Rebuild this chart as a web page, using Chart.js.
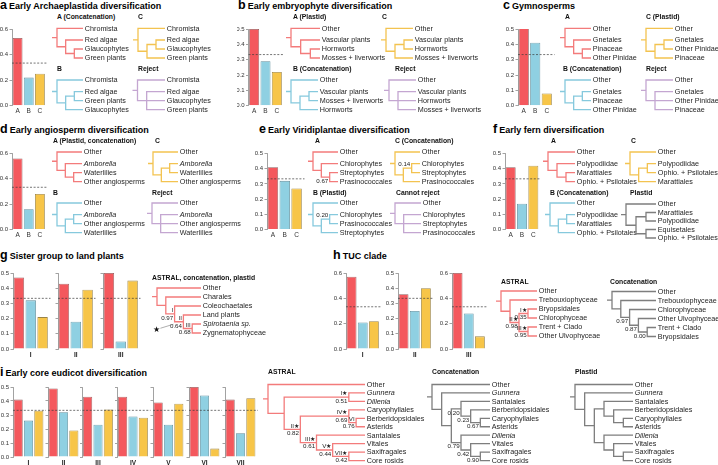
<!DOCTYPE html>
<html><head><meta charset="utf-8">
<script src="https://cdn.jsdelivr.net/npm/chart.js@4.4.1/dist/chart.umd.min.js"></script>
<style>
html,body{margin:0;padding:0;background:#fff;}
#fig{position:relative;width:718px;height:465px;overflow:hidden;background:#fff;font-family:"Liberation Sans",Arial,Helvetica,sans-serif;}
#fig canvas{position:absolute;}
.t{position:absolute;white-space:nowrap;color:#000;font-weight:bold;}
.title{font-size:9px;line-height:12px;}
.title .L{font-size:12.5px;margin-right:2px;}
.hd{font-size:6.8px;line-height:8px;color:#111;}
</style></head><body><div id="fig"></div>
<script>
// ================= DATA =================
const hypotheses = ['A', 'B', 'C'];
const archaeplastidaSupport = [0.53, 0.22, 0.25];
const embryophyteSupport   = [0.50, 0.29, 0.22];
const gymnospermSupport    = [0.51, 0.41, 0.08];
const angiospermSupport    = [0.56, 0.16, 0.28];
const viridiplantaeSupport = [0.41, 0.32, 0.27];
const fernSupport          = [0.41, 0.17, 0.42];

const sisterGroups = ['I', 'II', 'III'];
const sisterA = [0.47, 0.43, 0.50];
const sisterB = [0.32, 0.18, 0.05];
const sisterC = [0.21, 0.39, 0.45];

const tucGroups = ['I', 'II', 'III'];
const tucA = [0.57, 0.36, 0.60];
const tucB = [0.21, 0.25, 0.28];
const tucC = [0.22, 0.40, 0.10];

const eudicotGroups = ['I', 'II', 'III', 'IV', 'V', 'VI', 'VII'];
const eudicotA = [0.41, 0.49, 0.43, 0.43, 0.39, 0.50, 0.41];
const eudicotB = [0.26, 0.32, 0.23, 0.29, 0.23, 0.44, 0.17];
const eudicotC = [0.33, 0.19, 0.34, 0.28, 0.38, 0.06, 0.42];

const ticks06 = [0, 0.2, 0.4, 0.6];
const ticks05 = [0, 0.1, 0.2, 0.3, 0.4, 0.5];
const NULL_SUPPORT = 1 / 3;

// trees (Newick; _name = italic; [above|below] = node annotation; :n = branch length)
const aTreeA = '(Chromista,(Red algae,(Glaucophytes,Green plants)))';
const aTreeC = '(Chromista,((Red algae,Glaucophytes),Green plants))';
const aTreeB = '(Chromista,((Red algae,Green plants),Glaucophytes))';
const aTreeR = '(Chromista,(Red algae,Glaucophytes,Green plants))';
const bTreeA = '(Other,(Vascular plants,(Hornworts,Mosses + liverworts)))';
const bTreeC = '(Other,((Vascular plants,Hornworts),Mosses + liverworts))';
const bTreeB = '(Other,((Vascular plants,Mosses + liverworts),Hornworts))';
const bTreeR = '(Other,(Vascular plants,Hornworts,Mosses + liverworts))';
const cTreeA = '(Other,(Gnetales,(Pinaceae,Other Pinidae)))';
const cTreeC = '(Other,((Gnetales,Other Pinidae),Pinaceae))';
const cTreeB = '(Other,((Gnetales,Pinaceae),Other Pinidae))';
const cTreeR = '(Other,(Gnetales,Other Pinidae,Pinaceae))';
const dTreeA = '(Other,(_Amborella,(Waterlilies,Other angiosperms)))';
const dTreeC = '(Other,((_Amborella,Waterlilies),Other angiosperms))';
const dTreeB = '(Other,((_Amborella,Other angiosperms),Waterlilies))';
const dTreeR = '(Other,(_Amborella,Other angiosperms,Waterlilies))';
const eTreeA = '(Other,(Chlorophytes,(Streptophytes,Prasinococcales)[|0.67]))';
const eTreeC = '(Other,((Chlorophytes,Streptophytes)[0.14|],Prasinococcales))';
const eTreeB = '(Other,((Chlorophytes,Prasinococcales)[0.20|],Streptophytes))';
const eTreeR = '(Other,(Chlorophytes,Streptophytes,Prasinococcales))';
const fTreeA = '(Other,(Polypodiidae,(Marattiales,Ophio. + Psilotales)))';
const fTreeC = '(Other,((Polypodiidae,Ophio. + Psilotales),Marattiales))';
const fTreeB = '(Other,((Polypodiidae,Marattiales),Ophio. + Psilotales))';
const fTreeP = '(Other,((Marattiales,Polypodiidae),(Equisetales,Ophio. + Psilotales)))';
const gTree = '(Other,(Charales,(Coleochaetales,(Land plants,(_Spirotaenia sp.,Zygnematophyceae)[III|0.68])[II|0.64])[I|0.97]))';
const hTreeAstral = '(Other,(Trebouxiophyceae,((Bryopsidales,Chlorophyceae)[I★|0.35],(Trent + Clado,Other Ulvophyceae)[III★|0.95])[II★|0.98]))';
const hTreeConcat = '(Other,(Trebouxiophyceae,(Chlorophyceae,(Other Ulvophyceae,(Trent + Clado,Bryopsidales)[|0.00])[|0.87])[|0.97]))';
const iTreeAstral = '(Other,((_Gunnera,_Dillenia)[I★|0.51]:4,((Caryophyllales,(Berberidopsidales,Asterids)[VI|0.76]:0.45)[IV★|0.69]:3,(Santalales,(Vitales,(Saxifragales,Core rosids)[VII★|0.42]:1)[V★|0.44]:1)[III★|0.61]:1)[II★|0.82]:1):1)';
const iTreeConcat = '(Other,(_Gunnera,((Santalales,(Berberidopsidales,(Caryophyllales,Asterids)[|0.67])[|0.23])[|0.20],(_Dillenia,(Vitales,(Saxifragales,Core rosids)[|0.90])[|0.42])[|0.79])))';
const iTreePlastid = '(Other,(_Gunnera,((Santalales,(Berberidopsidales,(Caryophyllales,Asterids))),(_Dillenia,(Vitales,(Saxifragales,Core rosids))))))';

// ================= STYLE / HELPERS =================
const FONT = '"Liberation Sans", Arial, Helvetica, sans-serif';
const BAR_FILL = ['#F4585D', '#8FD0E2', '#F7C548'];
const BAR_EDGE = ['#8f5c5c', '#5f8d9a', '#9a8345'];
const TREE = { red: '#F37B7B', blue: '#86C9DD', yellow: '#F3C350', purple: '#C4A6D1', gray: '#7e7e7e' };
Chart.defaults.font.family = FONT;
Chart.defaults.color = '#333';
const fig = document.getElementById('fig');

function mkCanvas(l, t, w, h) {
  const c = document.createElement('canvas');
  c.width = w; c.height = h;
  c.style.left = l + 'px'; c.style.top = t + 'px';
  c.style.width = w + 'px'; c.style.height = h + 'px';
  fig.appendChild(c); return c;
}
function addText(cls, html, x, y) {
  const d = document.createElement('div');
  d.className = 't ' + cls; d.innerHTML = html;
  d.style.left = x + 'px'; d.style.top = y + 'px';
  fig.appendChild(d);
}
function title(letter, text, x, y) { addText('title', '<span class="L">' + letter + '</span>' + text, x, y - 6); }
function heading(text, x, y) { addText('hd', text, x, y - 4); }

const dashPlugin = { id: 'nullDash', afterDatasetsDraw(chart) {
  const y = chart.scales.y.getPixelForValue(NULL_SUPPORT), a = chart.chartArea, ctx = chart.ctx;
  ctx.save(); ctx.strokeStyle = '#3a3a3a'; ctx.lineWidth = 0.7; ctx.setLineDash([2, 1.6]);
  ctx.beginPath(); ctx.moveTo(a.left, y); ctx.lineTo(a.right + 2, y); ctx.stroke(); ctx.restore();
}};

function barChart(o) {
  const padTop = 6, xh = 10;
  const L = Math.floor(o.left), T = Math.floor(o.top - padTop);
  const W = Math.ceil(o.right + 4 - L), H = Math.ceil(o.bottom + xh - T);
  const cv = mkCanvas(L, T, W, H);
  const tk = o.ticks;
  new Chart(cv, {
    type: 'bar',
    data: { labels: o.labels, datasets: [{ data: o.values, backgroundColor: BAR_FILL, borderColor: BAR_EDGE,
      borderWidth: 0.8, barPercentage: 0.88, categoryPercentage: 1 }] },
    options: {
      responsive: false, animation: false, devicePixelRatio: 1, events: [],
      layout: { padding: { top: o.top - T, right: L + W - o.right, left: 0, bottom: (T + H) - (o.bottom + xh) } },
      plugins: { legend: { display: false }, tooltip: { enabled: false } },
      scales: {
        y: { min: tk[0], max: tk[tk.length - 1],
          afterBuildTicks: s => { s.ticks = tk.map(v => ({ value: v })); },
          ticks: { display: o.tickLabels !== false, font: { size: 6 }, color: '#333', padding: 1.5, callback: v => Number(v).toFixed(1) },
          grid: { drawOnChartArea: false, drawTicks: true, tickLength: 2.5, color: '#8a8a8a', lineWidth: 0.8 },
          border: { display: true, color: '#8a8a8a', width: 0.8 },
          afterFit: s => { s.width = o.axisX - L; } },
        x: { grid: { display: false, drawTicks: false }, border: { display: false },
          ticks: { display: !o.group, font: { size: 6.5 }, color: '#333', padding: 1.5, maxRotation: 0, autoSkip: false },
          title: { display: !!o.group, text: o.group || '', font: { size: 6.5, weight: 'bold' }, color: '#222', padding: { top: 0, bottom: 0 } },
          afterFit: s => { s.height = xh; } }
      }
    },
    plugins: [dashPlugin]
  });
}

function parseNewick(s) {
  let i = 0;
  const skip = () => { while (s[i] === ' ') i++; };
  function node() {
    skip();
    const n = { children: [], name: null, ann: null, len: null };
    if (s[i] === '(') {
      i++; n.children.push(node()); skip();
      while (s[i] === ',') { i++; n.children.push(node()); skip(); }
      i++;
    } else {
      const st = i; while (i < s.length && !',()[]:;'.includes(s[i])) i++;
      n.name = s.slice(st, i).trim();
    }
    if (s[i] === '[') { const j = s.indexOf(']', i); n.ann = s.slice(i + 1, j).split('|'); i = j + 1; }
    if (s[i] === ':') { i++; const st = i; while (i < s.length && !',()[];'.includes(s[i])) i++; n.len = parseFloat(s.slice(st, i)); }
    return n;
  }
  return node();
}

function treeChart(nwk, color, o) {
  const root = parseNewick(nwk);
  const leaves = [], internals = [];
  (function walk(n, d) { n.d = d; if (n.children.length) { internals.push(n); n.children.forEach(c => walk(c, d + 1)); } else leaves.push(n); })(root, 0);
  (function ht(n) { n.h = n.children.length ? 1 + Math.max(...n.children.map(ht)) : 0; return n.h; })(root);
  const gap = o.gap || 0;
  leaves.forEach((lf, k) => { lf.y = k + (k > 0 ? gap : 0); });
  (function sy(n) { if (n.children.length) { n.children.forEach(sy); n.y = (n.children[0].y + n.children[n.children.length - 1].y) / 2; } })(root);
  const maxD = Math.max(...leaves.map(l => l.d));
  const Hx = o.leafX || (o.mode === 'height' ? root.h : maxD);
  internals.forEach(n => { n.x = o.mode === 'height' ? Hx - n.h : n.d; });
  (function bl(n, px) { if (n.children.length) { if (n.len !== null && px !== null) n.x = px + n.len; n.children.forEach(c => bl(c, n.x)); } })(root, null);
  leaves.forEach(l => { l.x = Hx; });

  const stubPx = 5;
  const L = Math.floor(o.x0 - stubPx - 2), T = Math.floor(o.y0 - o.dy * 1.6);
  const W = Math.ceil(o.x1 - L + (o.labelW || 75));
  const lastY = leaves[leaves.length - 1].y;
  const Hc = Math.ceil(o.y0 + lastY * o.dy + o.dy * 1.6 - T);
  const k = (o.x1 - o.x0) / Hx;
  const xmin = (L - o.x0) / k, xmax = xmin + W / k;
  const ymin = (T - o.y0) / o.dy, ymax = ymin + Hc / o.dy;

  const pts = [], BR = { x: null, y: null };
  pts.push({ x: -stubPx / k, y: root.y }, { x: root.x, y: root.y }, BR);
  internals.forEach(n => {
    const c = n.children, f = c[0], l = c[c.length - 1];
    pts.push({ x: f.x, y: f.y }, { x: n.x, y: f.y }, { x: n.x, y: l.y }, { x: l.x, y: l.y }, BR);
    for (let m = 1; m < c.length - 1; m++) pts.push({ x: n.x, y: c[m].y }, { x: c[m].x, y: c[m].y }, BR);
  });

  const cv = mkCanvas(L, T, W, Hc);
  const fs = o.fontSize || 7.2;
  new Chart(cv, {
    type: 'scatter',
    data: { datasets: [{ data: pts, showLine: true, borderColor: color, borderWidth: 1.3, pointRadius: 0,
      pointHoverRadius: 0, spanGaps: false, tension: 0, borderJoinStyle: 'miter', borderCapStyle: 'butt', clip: false }] },
    options: {
      responsive: false, animation: false, devicePixelRatio: 1, events: [],
      layout: { padding: 0 },
      plugins: { legend: { display: false }, tooltip: { enabled: false } },
      scales: { x: { type: 'linear', display: false, min: xmin, max: xmax },
                y: { type: 'linear', display: false, reverse: true, min: ymin, max: ymax } }
    },
    plugins: [{ id: 'treeText', afterDatasetsDraw(chart) {
      const X = chart.scales.x, Y = chart.scales.y, ctx = chart.ctx;
      ctx.save(); ctx.fillStyle = '#1e1e1e'; ctx.textBaseline = 'middle'; ctx.textAlign = 'left';
      leaves.forEach(l => {
        const it = l.name.startsWith('_'); const txt = it ? l.name.slice(1) : l.name;
        ctx.font = (it ? 'italic ' : '') + fs + 'px ' + FONT;
        ctx.fillText(txt, X.getPixelForValue(l.x) + 1.8, Y.getPixelForValue(l.y) + 0.4);
      });
      ctx.font = '6.2px ' + FONT; ctx.textAlign = 'right';
      internals.forEach(n => {
        if (!n.ann) return;
        const px = X.getPixelForValue(n.x) - 1.4, py = Y.getPixelForValue(n.y);
        if (n.ann[0]) { ctx.textBaseline = 'bottom'; ctx.fillText(n.ann[0], px, py - 0.4); }
        if (n.ann[1]) { ctx.textBaseline = 'top'; ctx.fillText(n.ann[1], px, py + 1.0); }
      });
      if (o.starAt) {
        const n = internals.find(q => q.ann && q.ann[0] === o.starAt);
        const px = X.getPixelForValue(n.x), py = Y.getPixelForValue(n.y);
        ctx.strokeStyle = '#777'; ctx.lineWidth = 0.6;
        ctx.beginPath(); ctx.moveTo(px - 23, py + 6.5); ctx.lineTo(px - 10, py + 2.5); ctx.stroke();
        ctx.font = '8px ' + FONT; ctx.textAlign = 'center'; ctx.textBaseline = 'middle'; ctx.fillStyle = '#111';
        ctx.fillText('★', px - 27, py + 8.5);
      }
      ctx.restore();
    }}]
  });
}

// ================= LAYOUT =================
title('a', 'Early Archaeplastida diversification', 0, 5);
title('b', 'Early embryophyte diversification', 238, 5);
title('c', 'Gymnosperms', 503, 5);
title('d', 'Early angiosperm diversification', 0, 129);
title('e', 'Early Viridiplantae diversification', 259, 129);
title('f', 'Early fern diversification', 493, 129);
title('g', 'Sister group to land plants', 0, 255);
title('h', 'TUC clade', 333, 255);
title('i', 'Early core eudicot diversification', 0, 372);

const R1 = { top: 29, bottom: 105.7 }, R2 = { top: 153.5, bottom: 229.5 };
barChart({ left: 0, axisX: 12, right: 45.5, ...R1, ticks: ticks06, labels: hypotheses, values: archaeplastidaSupport });
barChart({ left: 237, axisX: 248.5, right: 282.5, ...R1, ticks: ticks05, labels: hypotheses, values: embryophyteSupport });
barChart({ left: 505, axisX: 518, right: 552.5, ...R1, ticks: ticks05, labels: hypotheses, values: gymnospermSupport });
barChart({ left: 0, axisX: 12, right: 45.5, ...R2, ticks: ticks06, labels: hypotheses, values: angiospermSupport });
barChart({ left: 255, axisX: 267, right: 302.5, ...R2, ticks: ticks05, labels: hypotheses, values: viridiplantaeSupport });
barChart({ left: 491, axisX: 505, right: 539, ...R2, ticks: ticks05, labels: hypotheses, values: fernSupport });

const T4 = { dy: 9, gap: 0.3, leafX: 3 };
const rowTrees = [
  // [newick, colour, heading, headX, headY, rootX, leafEndX, firstLeafY]
  [aTreeA, TREE.red, 'A (Concatenation)', 57, 17, 57, 83, 28.3],
  [aTreeC, TREE.yellow, 'C', 138, 17, 138, 165, 28.3],
  [aTreeB, TREE.blue, 'B', 57, 69, 57, 83, 80],
  [aTreeR, TREE.purple, 'Reject', 138, 69, 137.5, 165, 80],
  [bTreeA, TREE.red, 'A (Plastid)', 293, 17, 291, 320, 28.3],
  [bTreeC, TREE.yellow, 'C', 382, 17, 386, 413, 28.3],
  [bTreeB, TREE.blue, 'B (Concatenation)', 293, 69, 291, 318, 80],
  [bTreeR, TREE.purple, 'Reject', 395, 69, 389, 416, 80],
  [cTreeA, TREE.red, 'A', 565, 17, 565, 591, 28.3],
  [cTreeC, TREE.yellow, 'C (Plastid)', 646, 17, 646, 673, 28.3],
  [cTreeB, TREE.blue, 'B (Concatenation)', 563, 69, 565, 591, 80],
  [cTreeR, TREE.purple, 'Reject', 646, 69, 646, 673, 80],
  [dTreeA, TREE.red, 'A (Plastid, concatenation)', 53, 141, 57, 82, 152],
  [dTreeC, TREE.yellow, 'C', 155, 141, 153, 178, 152],
  [dTreeB, TREE.blue, 'B', 53, 193, 57, 82, 203],
  [dTreeR, TREE.purple, 'Reject', 152, 193, 152, 178, 203],
  [eTreeA, TREE.red, 'A', 315, 141, 313, 338, 152],
  [eTreeC, TREE.yellow, 'C (Concatenation)', 395, 141, 395, 420, 152],
  [eTreeB, TREE.blue, 'B (Plastid)', 313, 193, 313, 338, 203],
  [eTreeR, TREE.purple, 'Cannot reject', 396, 193, 395, 421, 203],
  [fTreeA, TREE.red, 'A', 551, 141, 548, 575, 152],
  [fTreeC, TREE.yellow, 'C', 631, 141, 630, 656, 152],
  [fTreeB, TREE.blue, 'B (Concatenation)', 550, 193, 550, 575, 203]
];
rowTrees.forEach(r => {
  heading(r[2], r[3], r[4]);
  treeChart(r[0], r[1], { ...T4, x0: r[5], x1: r[6], y0: r[7] });
});
heading('Plastid', 630, 193);
treeChart(fTreeP, TREE.gray, { dy: 8.5, gap: 0, leafX: 3, x0: 626, x1: 656, y0: 204 });

// g
const gAxes = [13, 58, 103];
sisterGroups.forEach((g, k) => barChart({ left: k === 0 ? 0 : gAxes[k] - 4, axisX: gAxes[k], right: gAxes[k] + 35.5,
  top: 273, bottom: 349, ticks: ticks05, tickLabels: k === 0, group: g, labels: hypotheses, values: [sisterA[k], sisterB[k], sisterC[k]] }));
heading('ASTRAL, concatenation, plastid', 152, 278);
treeChart(gTree, TREE.red, { dy: 9, x0: 157, x1: 201, y0: 288, labelW: 80, starAt: 'II' });

// h
const hAxes = [346, 398, 452];
const hTicks = [ticks06, ticks05, ticks06];
tucGroups.forEach((g, k) => barChart({ left: hAxes[k] - 13, axisX: hAxes[k], right: hAxes[k] + 33.5,
  top: 273, bottom: 349, ticks: hTicks[k], group: g, labels: hypotheses, values: [tucA[k], tucB[k], tucC[k]] }));
heading('ASTRAL', 501, 282);
treeChart(hTreeAstral, TREE.red, { dy: 9, x0: 501, x1: 537, y0: 291, labelW: 70 });
heading('Concatenation', 610, 282);
treeChart(hTreeConcat, TREE.gray, { dy: 9, x0: 612, x1: 656, y0: 291.5, labelW: 70 });

// i
const iAxes = [13, 48, 82.5, 117.5, 153, 189, 225];
eudicotGroups.forEach((g, k) => barChart({ left: k === 0 ? 0 : iAxes[k] - 4, axisX: iAxes[k], right: iAxes[k] + 31,
  top: 387, bottom: 457, ticks: ticks05, tickLabels: k === 0, group: g, labels: hypotheses, values: [eudicotA[k], eudicotB[k], eudicotC[k]] }));
heading('ASTRAL', 268, 372);
treeChart(iTreeAstral, TREE.red, { dy: 8.45, x0: 268, x1: 365, y0: 384.5, leafX: 6, labelW: 70 });
heading('Concatenation', 432, 372);
treeChart(iTreeConcat, TREE.gray, { dy: 8.45, x0: 432, x1: 490, y0: 384.5, labelW: 70 });
heading('Plastid', 575, 372);
treeChart(iTreePlastid, TREE.gray, { dy: 8.45, x0: 575, x1: 633, y0: 384.5, labelW: 70 });
</script></body></html>
